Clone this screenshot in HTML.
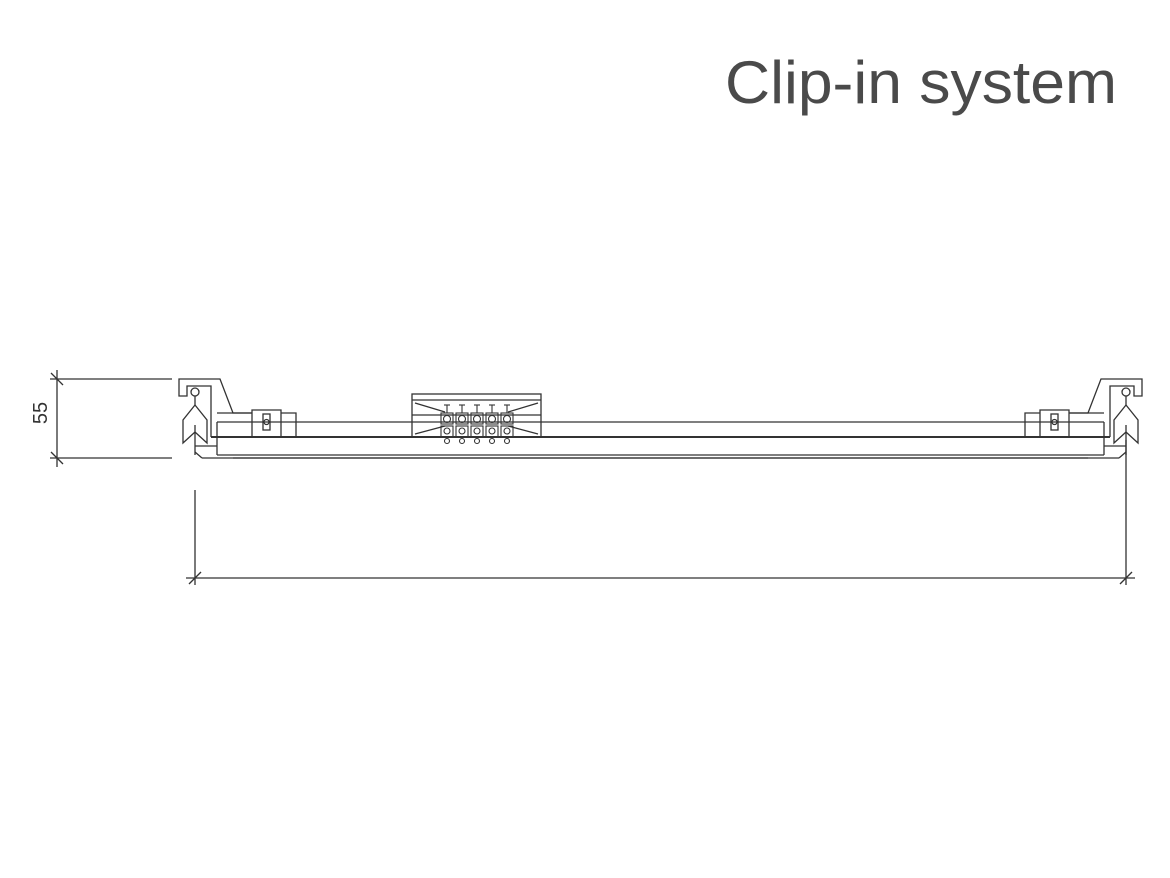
<!DOCTYPE html>
<html><head><meta charset="utf-8"><style>
html,body{margin:0;padding:0;background:#fff;}
svg{display:block;}
</style></head><body>
<svg width="1170" height="878" viewBox="0 0 1170 878" xmlns="http://www.w3.org/2000/svg">
<text x="725" y="103" font-family="Liberation Sans, sans-serif" font-size="60" fill="#4a4a4a" textLength="392" lengthAdjust="spacingAndGlyphs">Clip-in system</text>

<g stroke="#333" stroke-width="1.3" fill="none">
<!-- vertical dimension -->
<line x1="50" y1="379" x2="172" y2="379"/>
<line x1="50" y1="458" x2="172" y2="458"/>
<line x1="57" y1="370" x2="57" y2="467"/>
<line x1="51" y1="373" x2="63" y2="385"/>
<line x1="51" y1="452" x2="63" y2="464"/>
<!-- horizontal dimension -->
<line x1="186" y1="578" x2="1135" y2="578"/>
<line x1="195" y1="490" x2="195" y2="585"/>
<line x1="1126" y1="440" x2="1126" y2="585"/>
<line x1="189" y1="584" x2="201" y2="572"/>
<line x1="1120" y1="584" x2="1132" y2="572"/>

<!-- panel body -->
<line x1="217" y1="422" x2="1104" y2="422"/>
<line x1="211" y1="437" x2="1110" y2="437" stroke-width="2"/>
<line x1="217" y1="455" x2="1104" y2="455"/>
<line x1="233" y1="458" x2="1088" y2="458"/>
<line x1="202" y1="458" x2="1119" y2="458"/>

<!-- connector module -->
<rect x="412" y="394" width="129" height="43"/>
<line x1="412" y1="400" x2="541" y2="400"/>
<line x1="412" y1="415" x2="541" y2="415"/>
<line x1="415" y1="403" x2="445" y2="412"/>
<line x1="415" y1="434" x2="445" y2="426"/>
<line x1="538" y1="403" x2="508" y2="412"/>
<line x1="538" y1="434" x2="508" y2="426"/>
<g stroke-width="1.1">
<g id="t">
<rect x="441" y="413" width="12" height="11"/>
<rect x="441" y="426" width="12" height="11"/>
<circle cx="447" cy="419" r="3.5"/>
<circle cx="447" cy="431" r="3"/>
<line x1="447" y1="405" x2="447" y2="413"/>
<line x1="444" y1="405" x2="450" y2="405"/>
<circle cx="447" cy="441" r="2.5"/>
</g>
<use href="#t" x="15"/>
<use href="#t" x="30"/>
<use href="#t" x="45"/>
<use href="#t" x="60"/>
</g>

<!-- left side profile -->
<g id="side">
<polyline points="172,379 172,379"/>
<polyline points="211,437 211,386 187,386 187,396 179,396 179,379 220,379 233,413 252,413"/>
<circle cx="195" cy="392" r="4"/>
<line x1="195" y1="396" x2="195" y2="405"/>
<polygon points="195,405 183,420 183,443 195,432 207,443 207,420"/>
<line x1="195" y1="425" x2="195" y2="455"/>
<path d="M195,446 L217,446 M195,452 L202,458 M217,422 L217,455"/>
<path d="M252,437 L252,410 L281,410 L281,437 M281,413 L296,413 L296,437 M252,413 L217,413"/>
<rect x="263" y="414" width="7" height="16"/>
<circle cx="266.5" cy="422" r="2.5"/>
</g>
<use href="#side" transform="translate(1321,0) scale(-1,1)"/>
</g>

<text transform="translate(47,413) rotate(-90)" font-family="Liberation Sans, sans-serif" font-size="20" fill="#333" text-anchor="middle">55</text>
</svg>
</body></html>
